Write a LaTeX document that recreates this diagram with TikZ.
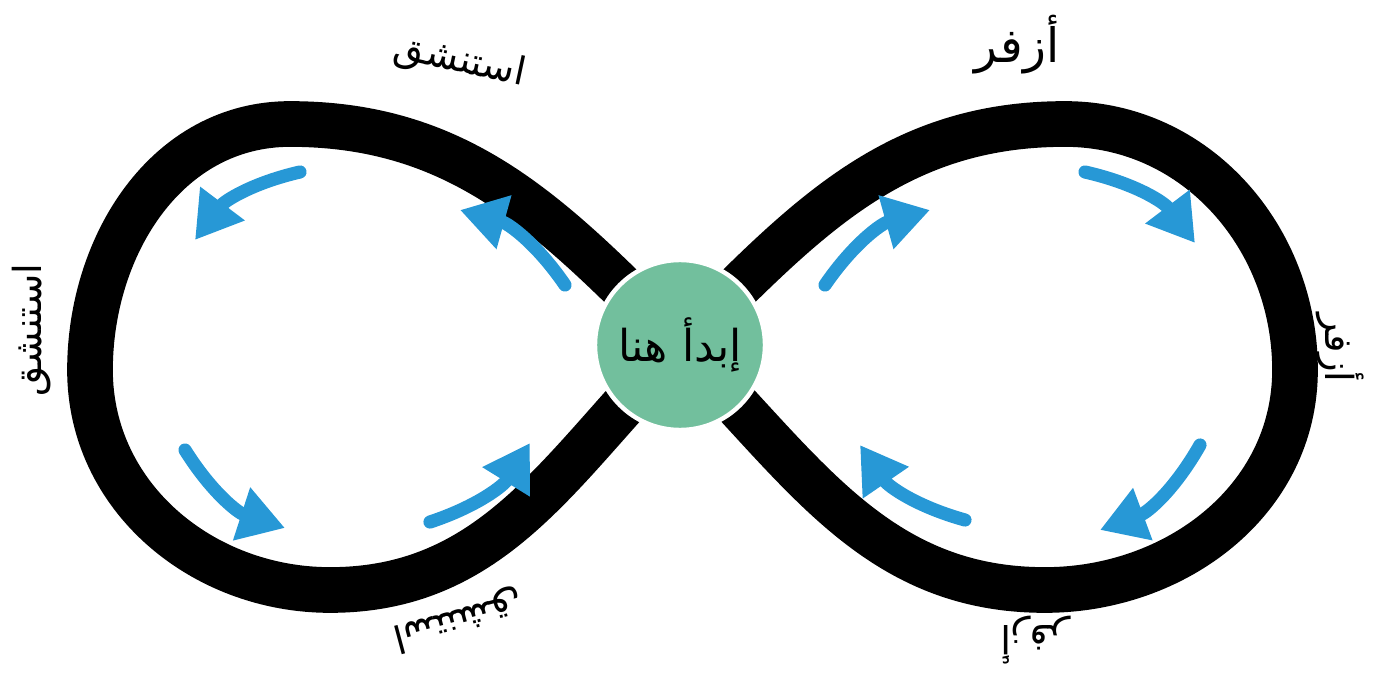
\documentclass[tikz,border=0pt]{standalone}
\usepackage{fontspec}
\newfontfamily\arabicfont[Script=Arabic]{DejaVu Sans}
\TeXXeTstate=1
\usetikzlibrary{arrows.meta}
\definecolor{verdecirculo}{RGB}{114,191,157}
\definecolor{azulseta}{RGB}{39,152,214}

\begin{document}
\begin{tikzpicture}[x=0.02cm, y=0.02cm, font=\arabicfont\fontsize{22}{26}\selectfont,
    seta/.style={azulseta, line width=7.5pt, line cap=round, -{Triangle[length=26pt,width=30pt]}},
    faixa/.style={line width=26pt, line join=round}]
        \useasboundingbox (0,0) rectangle (1380,-682);

        % Pontos do oito
        \coordinate (centro) at (680,-345);
        \coordinate (topoE) at (290,-124);
        \coordinate (esq) at (90,-370);
        \coordinate (baixoE) at (330,-590);
        \coordinate (topoD) at (1065,-124);
        \coordinate (dir) at (1295,-370);
        \coordinate (baixoD) at (1045,-590);

        % Faixa preta
        \draw[faixa] (centro) to[out=135,in=0] (topoE) to[out=180,in=90] (esq)
            to[out=-90,in=180] (baixoE) to[out=0,in=225] (centro)
            to[out=45,in=180] (topoD) to[out=0,in=90] (dir)
            to[out=-90,in=0] (baixoD) to[out=180,in=-45] (centro);

        % Setas do lado esquerdo
        \draw[seta] (300,-172) to[bend right=20] (195,-240);
        \draw[seta] (565,-285) to[bend right=20] (460,-210);
        \draw[seta] (185,-450) to[bend right=20] (285,-528);
        \draw[seta] (430,-522) to[bend right=20] (530,-443);

        % Setas do lado direito
        \draw[seta] (825,-285) to[bend left=20] (930,-210);
        \draw[seta] (1085,-172) to[bend left=20] (1195,-243);
        \draw[seta] (1200,-445) to[bend left=20] (1100,-530);
        \draw[seta] (965,-520) to[bend left=20] (860,-445);

        % Circulo central
        \node[circle, fill=verdecirculo, draw=white, line width=2.5pt, minimum size=3.4cm, inner sep=0pt,
            font=\arabicfont\fontsize{25}{30}\selectfont] (inicio) at (centro) {\beginR إبدأ هنا\endR};

        % Rotulos
        \node[rotate=-12] (inspirarTopo) at (460,-62) {\beginR استنشق\endR};
        \node[font=\arabicfont\fontsize{27}{32}\selectfont] (expirarTopo) at (1017,-45) {\beginR أزفر\endR};
        \node[rotate=90] (inspirarEsq) at (32,-330) {\beginR استنشق\endR};
        \node[rotate=-90] (expirarDir) at (1340,-348) {\beginR أزفر\endR};
        \node[rotate=195] (inspirarBaixo) at (458,-620) {\beginR استنشق\endR};
        \node[rotate=180] (expirarBaixo) at (1035,-640) {\beginR أزفر\endR};
    \end{tikzpicture}
\end{document}
